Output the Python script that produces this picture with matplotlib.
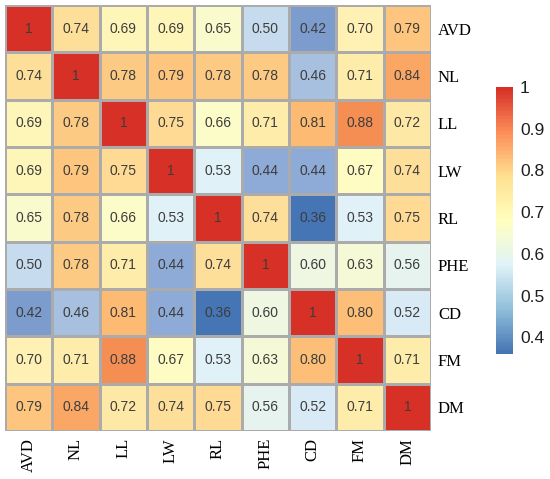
import numpy as np
import matplotlib.pyplot as plt
import matplotlib.cm as cm
from matplotlib.colors import LinearSegmentedColormap, Normalize

# Etiquetas de los rasgos
rasgos = ['AVD', 'NL', 'LL', 'LW', 'RL', 'PHE', 'CD', 'FM', 'DM']

# Matriz de correlación (fila por fila)
fila_avd = [1, 0.74, 0.69, 0.69, 0.65, 0.50, 0.42, 0.70, 0.79]
fila_nl = [0.74, 1, 0.78, 0.79, 0.78, 0.78, 0.46, 0.71, 0.84]
fila_ll = [0.69, 0.78, 1, 0.75, 0.66, 0.71, 0.81, 0.88, 0.72]
fila_lw = [0.69, 0.79, 0.75, 1, 0.53, 0.44, 0.44, 0.67, 0.74]
fila_rl = [0.65, 0.78, 0.66, 0.53, 1, 0.74, 0.36, 0.53, 0.75]
fila_phe = [0.50, 0.78, 0.71, 0.44, 0.74, 1, 0.60, 0.63, 0.56]
fila_cd = [0.42, 0.46, 0.81, 0.44, 0.36, 0.60, 1, 0.80, 0.52]
fila_fm = [0.70, 0.71, 0.88, 0.67, 0.53, 0.63, 0.80, 1, 0.71]
fila_dm = [0.79, 0.84, 0.72, 0.74, 0.75, 0.56, 0.52, 0.71, 1]

matriz = np.array([fila_avd, fila_nl, fila_ll, fila_lw, fila_rl,
                   fila_phe, fila_cd, fila_fm, fila_dm])

vmin, vmax = 0.36, 1.0

# Paleta de las celdas (colores)
nodos = [0.36, 0.42, 0.44, 0.46, 0.50, 0.53, 0.60, 0.67, 0.74, 0.81, 0.88, 1.0]
col_nodos = ['#4575b4', '#7b9ccc', '#8eaad6', '#a8c0e0', '#c6dcee', '#e0f1f8',
             '#eff6e2', '#fefdc4', '#fee09a', '#fdbb74', '#f69053', '#d73027']
cmap_celdas = LinearSegmentedColormap.from_list(
    'celdas', [((v - vmin) / (vmax - vmin), c) for v, c in zip(nodos, col_nodos)])

# Paleta de la leyenda (RdYlBu invertida de 7 colores)
colores = ['#4575B4', '#91BFDB', '#E0F3F8', '#FFFFBF', '#FEE090', '#FC8D59', '#D73027']
cmap_leyenda = LinearSegmentedColormap.from_list('rdylbu7', colores, N=100)

fig = plt.figure(figsize=(5.5, 4.79), dpi=100)
ax = fig.add_axes([5 / 550, 1 - 431 / 479, 426 / 550, 426 / 479])

n = len(rasgos)
ax.pcolormesh(np.arange(n + 1), np.arange(n + 1), matriz, cmap=cmap_celdas,
              vmin=vmin, vmax=vmax, edgecolor='#ababab', linewidth=0.9)
ax.set_xlim(0, n)
ax.set_ylim(n, 0)

# Números en cada celda
for i in range(n):
    for j in range(n):
        v = matriz[i, j]
        texto = '1' if v == 1 else f'{v:.2f}'
        ax.text(j + 0.5, i + 0.5, texto, ha='center', va='center',
                fontsize=10, color='#3d3d3d', family='Liberation Sans')

# Etiquetas
ax.yaxis.tick_right()
ax.set_yticks(np.arange(n) + 0.5)
ax.set_yticklabels(rasgos, family='Liberation Serif', fontsize=12)
ax.set_xticks(np.arange(n) + 0.5)
ax.set_xticklabels(rasgos, family='Liberation Serif', fontsize=12, rotation=90)
ax.tick_params(length=0, pad=5)
for s in ax.spines.values():
    s.set_visible(False)

# Barra de color
cax = fig.add_axes([496 / 550, 1 - 354 / 479, 17 / 550, 267 / 479])
sm = cm.ScalarMappable(norm=Normalize(vmin, vmax), cmap=cmap_leyenda)
cb = fig.colorbar(sm, cax=cax, ticks=[0.4, 0.5, 0.6, 0.7, 0.8, 0.9, 1])
cb.ax.set_yticklabels(['0.4', '0.5', '0.6', '0.7', '0.8', '0.9', '1'])
cb.outline.set_visible(False)
cb.ax.tick_params(length=0, pad=5, labelsize=12.5)
for t in cb.ax.get_yticklabels():
    t.set_family('Liberation Sans')
    t.set_color('#1e1e1e')

plt.savefig('out.png', dpi=100)
plt.close()
